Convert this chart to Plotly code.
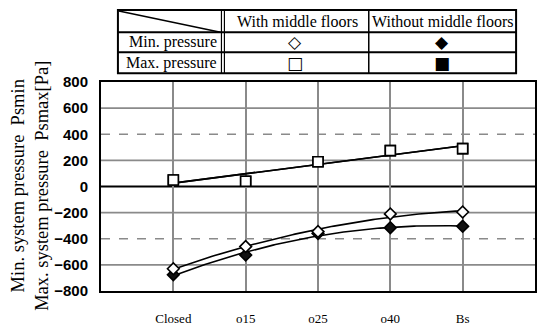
import numpy as np
import plotly.graph_objects as go

categories = ["Closed", "o15", "o25", "o40", "Bs"]
max_with = [50, 40, 190, 275, 290]
max_without = [50, 40, 190, 275, 290]
min_with = [-630, -460, -345, -210, -195]
min_without = [-675, -525, -360, -315, -305]
y_ticks = [-800, -600, -400, -200, 0, 200, 400, 600, 800]
solid_grid = [-600, -200, 200, 600]
dashed_grid = [-400, 400]

SERIF = "Liberation Serif"
xpos = np.arange(1, len(categories) + 1)
xfine = np.linspace(1, len(categories), 120)

fig = go.Figure()

def add(vals, symbol, fill, size, deg):
    coef = np.polyfit(xpos, vals, deg)
    fig.add_trace(go.Scatter(
        x=xfine, y=np.polyval(coef, xfine), mode="lines",
        line=dict(color="black", width=1.6), showlegend=False, hoverinfo="skip"))
    fig.add_trace(go.Scatter(
        x=xpos, y=vals, mode="markers",
        marker=dict(symbol=symbol, size=size, color=fill,
                    line=dict(color="black", width=1.6)),
        showlegend=False, cliponaxis=False))

add(max_without, "square", "#222222", 10, 1)
add(max_with, "square", "white", 10, 1)
add(min_without, "diamond", "#111111", 9, 2)
add(min_with, "diamond", "white", 9, 2)

shapes = []
for v in solid_grid:
    shapes.append(dict(type="line", xref="paper", yref="y", x0=0, x1=1, y0=v, y1=v,
                       line=dict(color="#8a8a8a", width=1.6), layer="below"))
for v in dashed_grid:
    shapes.append(dict(type="line", xref="paper", yref="y", x0=0, x1=1, y0=v, y1=v,
                       line=dict(color="#8a8a8a", width=1.6, dash="dash"), layer="below"))
shapes.append(dict(type="line", xref="paper", yref="y", x0=0, x1=1, y0=0, y1=0,
                   line=dict(color="black", width=1.8), layer="below"))

# table geometry in pixels -> paper
L, R, T, B = 101, 537, 82, 300
W, H = R - L, B - T
def px(x): return (x - L) / W
def py(y): return (B - y) / H

def seg(x0, y0, x1, y1, w=1.5):
    shapes.append(dict(type="line", xref="paper", yref="paper",
                       x0=px(x0), y0=py(y0), x1=px(x1), y1=py(y1),
                       line=dict(color="black", width=w)))

tx0, tx1, ty0, ty1 = 118, 518, 7, 73
shapes.append(dict(type="rect", xref="paper", yref="paper",
                   x0=px(tx0), x1=px(tx1), y0=py(ty0), y1=py(ty1),
                   line=dict(color="black", width=2)))
seg(tx0, 30, tx1, 30, 2)
seg(tx0, 51, tx1, 51, 2)
seg(222, ty0, 222, ty1, 1.2)
seg(225, ty0, 225, ty1, 1.2)
seg(370, ty0, 370, ty1, 1.5)
seg(119, 8, 221, 30, 1.5)

annotations = []
def txt(x, y, s, size=16, xanchor="center", font=SERIF):
    annotations.append(dict(xref="paper", yref="paper", x=px(x), y=py(y), text=s,
                            showarrow=False, xanchor=xanchor, yanchor="middle",
                            font=dict(family=font, size=size, color="black")))

txt(298, 19, "With middle floors")
txt(445, 19, "Without middle floors")
txt(220, 40.5, "Min. pressure", xanchor="right")
txt(220, 62, "Max. pressure", xanchor="right")
txt(296, 40.5, "◇", size=17, font="DejaVu Sans")
txt(444, 40.5, "◆", size=17, font="DejaVu Sans")
txt(296, 62, "□", size=17, font="DejaVu Sans")
txt(444, 62, "■", size=17, font="DejaVu Sans")

annotations.append(dict(xref="paper", yref="paper", x=px(29), y=py(190),
                        text="Min. system pressure  Psmin<br>Max. system pressure  Psmax[Pa]",
                        textangle=-90, showarrow=False, xanchor="center", yanchor="middle",
                        font=dict(family=SERIF, size=18.5, color="black")))

fig.update_layout(
    width=543, height=332,
    margin=dict(l=L, r=543 - R, t=T, b=332 - B),
    paper_bgcolor="white", plot_bgcolor="white",
    shapes=shapes, annotations=annotations,
    xaxis=dict(range=[0, len(categories) + 1], tickvals=list(xpos), ticktext=categories,
               showgrid=True, gridcolor="#8a8a8a", gridwidth=1.6, zeroline=False,
               showline=True, linecolor="black", linewidth=2, mirror=True,
               ticks="", ticklabelstandoff=14,
               tickfont=dict(family=SERIF, size=13, color="black")),
    yaxis=dict(range=[-800, 800], tickvals=y_ticks, showgrid=False, zeroline=False,
               showline=True, linecolor="black", linewidth=2, mirror=True,
               ticks="", ticklabelstandoff=8,
               tickfont=dict(family="Liberation Sans Narrow, Liberation Sans", size=15,
                             color="black", weight="bold")),
)

fig.write_html("out.html", config={"displayModeBar": False},
               post_script="document.body.style.margin='0';")
